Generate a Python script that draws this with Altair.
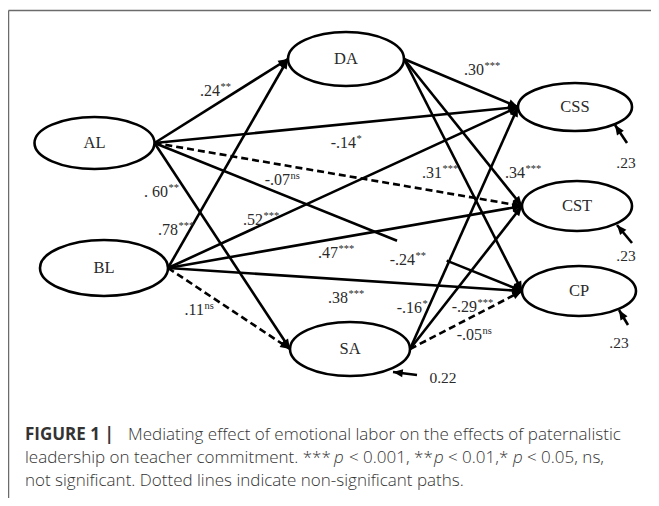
import math
import altair as alt
import pandas as pd

# ---------------- data ----------------
node_names = ["AL", "BL", "DA", "SA", "CSS", "CST", "CP"]

path_from = ["AL", "AL", "AL", "AL", "AL", "BL", "BL", "BL", "BL", "BL",
             "DA", "DA", "DA", "SA", "SA", "SA"]
path_to = ["DA", "CSS", "CST", "CP", "SA", "DA", "CSS", "CST", "CP", "SA",
           "CSS", "CST", "CP", "CSS", "CST", "CP"]
path_coef = [".24", "-.14", "-.07", "-.24", ". 60", ".78", ".52", ".47", ".38", ".11",
             ".30", ".34", ".31", "-.16", "-.29", "-.05"]
path_sig = ["**", "*", "ns", "**", "**", "***", "***", "***", "***", "ns",
            "***", "***", "***", "*", "***", "ns"]

res_node = ["CSS", "CST", "CP", "SA"]
res_value = [".23", ".23", ".23", "0.22"]

caption_title = "FIGURE 1 |"
caption_l1 = "Mediating effect of emotional labor on the effects of paternalistic"
caption_l2 = ["leadership on teacher commitment. ***", "p", "< 0.001, **", "p",
              "< 0.01,*", "p", "< 0.05, ns,"]
caption_l3 = "not significant. Dotted lines indicate non-significant paths."

# ---------------- layout (figure pixels) ----------------
node_cx = [94.5, 104, 346, 350, 575, 577, 579]
node_cy = [143, 268, 59, 349, 107, 206, 291]
node_rx = [60, 64, 58, 60, 57, 55, 57]
node_ry = [26, 28, 27, 27, 24, 25, 25]

label_x = [220, 356, 290, 415, 168, 178, 263, 338, 348, 204, 484, 525, 442, 422, 477, 482]
label_y = [96, 148, 185, 265, 197, 235, 225, 258, 303, 315, 75, 178, 178, 313, 312, 340]
gaps = {("AL", "CP"): (0.66, 0.795)}

res_x1 = [627, 632, 628, 417]
res_y1 = [143, 243, 325, 375]
res_x2 = [615, 617, 619, 393]
res_y2 = [125, 225, 310, 372]
res_lx = [626, 626, 619, 443]
res_ly = [163, 256, 343, 378]

cap_l2_x = [25, 334, 349, 434, 448, 513, 527]
cap_l2_style = ["normal", "italic", "normal", "italic", "normal", "italic", "normal"]

SERIF = "Liberation Serif, Times New Roman, Times, serif"
SANS = "Open Sans, Liberation Sans, sans-serif"

# ---------------- tables ----------------
nodes = pd.DataFrame({"name": node_names, "cx": node_cx, "cy": node_cy,
                      "rx": node_rx, "ry": node_ry})
nodes["size"] = (2 * nodes["rx"]) ** 2
nodes["shape"] = [f"M-1,0A1,{ry / rx:.4f},0,1,1,1,0A1,{ry / rx:.4f},0,1,1,-1,0Z"
                  for rx, ry in zip(node_rx, node_ry)]
npos = nodes.set_index("name")

seg_rows, head_rows = [], []
for f, t, c, s in zip(path_from, path_to, path_coef, path_sig):
    sx = npos.loc[f, "cx"] + npos.loc[f, "rx"]
    sy = npos.loc[f, "cy"]
    tx = npos.loc[t, "cx"] - npos.loc[t, "rx"]
    ty = npos.loc[t, "cy"]
    dash = s == "ns"
    pieces = [(0.0, 1.0)]
    if (f, t) in gaps:
        g0, g1 = gaps[(f, t)]
        pieces = [(0.0, g0), (g1, 1.0)]
    for a, b in pieces:
        seg_rows.append({"x": sx + a * (tx - sx), "y": sy + a * (ty - sy),
                         "x2": sx + b * (tx - sx), "y2": sy + b * (ty - sy),
                         "dash": dash})
    ang = math.degrees(math.atan2(ty - sy, tx - sx)) % 360
    head_rows.append({"x": tx, "y": ty, "ang": ang})

for x1, y1, x2, y2 in zip(res_x1, res_y1, res_x2, res_y2):
    seg_rows.append({"x": x1, "y": y1, "x2": x2, "y2": y2, "dash": False})
    head_rows.append({"x": x2, "y": y2,
                      "ang": math.degrees(math.atan2(y2 - y1, x2 - x1)) % 360})

segs = pd.DataFrame(seg_rows)
heads = pd.DataFrame(head_rows)
labels = pd.DataFrame({"coef": path_coef, "sig": path_sig, "x": label_x, "y": label_y})
labels["ys"] = labels["y"] - 6
res = pd.DataFrame({"v": res_value, "x": res_lx, "y": res_ly})

cap_bold = pd.DataFrame({"t": [caption_title], "x": [25], "y": [440]})
cap_norm = pd.DataFrame(
    [{"t": caption_l1, "x": 128, "y": 440}]
    + [{"t": t, "x": x, "y": 463} for t, x, st in zip(caption_l2, cap_l2_x, cap_l2_style)
       if st == "normal"]
    + [{"t": caption_l3, "x": 25, "y": 486}])
cap_ital = pd.DataFrame(
    [{"t": t, "x": x, "y": 463} for t, x, st in zip(caption_l2, cap_l2_x, cap_l2_style)
     if st == "italic"])

frame = pd.DataFrame({"x": [8.5, 8.5], "y": [10.5, 10.5], "x2": [651, 8.5], "y2": [10.5, 498]})

# ---------------- chart ----------------
xs = alt.Scale(domain=[8, 651], nice=False, zero=False)
ys = alt.Scale(domain=[8, 498], nice=False, zero=False, reverse=True)
X = alt.X("x:Q", scale=xs, axis=None)
Y = alt.Y("y:Q", scale=ys, axis=None)

frame_l = alt.Chart(frame).mark_rule(color="#6b6b6b", strokeWidth=1.5).encode(
    x=X, y=Y, x2="x2:Q", y2="y2:Q")

solid = alt.Chart(segs[~segs["dash"]]).mark_rule(color="black", strokeWidth=2.6).encode(
    x=X, y=Y, x2="x2:Q", y2="y2:Q")
dashed = alt.Chart(segs[segs["dash"]]).mark_rule(
    color="black", strokeWidth=2.6, strokeDash=[7, 4]).encode(
    x=X, y=Y, x2="x2:Q", y2="y2:Q")

arrow_l = alt.Chart(heads).mark_point(
    filled=True, color="black", opacity=1, size=380,
    shape="M0,0L-1,-0.42L-1,0.42Z", strokeWidth=0).encode(
    x=X, y=Y, angle=alt.Angle("ang:Q", scale=None))

ell = alt.Chart(nodes).mark_point(
    filled=False, fill="white", fillOpacity=1, stroke="black", strokeWidth=2.6, opacity=1).encode(
    x=alt.X("cx:Q", scale=xs, axis=None), y=alt.Y("cy:Q", scale=ys, axis=None),
    shape=alt.Shape("shape:N", scale=None, legend=None),
    size=alt.Size("size:Q", scale=None, legend=None))

TXT = "#2a2a2a"
node_txt = alt.Chart(nodes).mark_text(
    font=SERIF, fontSize=16.5, color=TXT, baseline="middle", align="center").encode(
    x=alt.X("cx:Q", scale=xs, axis=None), y=alt.Y("cy:Q", scale=ys, axis=None), text="name:N")

coef_txt = alt.Chart(labels).mark_text(
    font=SERIF, fontSize=16, color=TXT, baseline="alphabetic", align="right").encode(
    x=X, y=Y, text="coef:N")
sig_txt = alt.Chart(labels).mark_text(
    font=SERIF, fontSize=10.5, color=TXT, baseline="alphabetic", align="left", dx=0.5).encode(
    x=X, y=alt.Y("ys:Q", scale=ys, axis=None), text="sig:N")

res_txt = alt.Chart(res).mark_text(
    font=SERIF, fontSize=15.5, color=TXT, baseline="middle", align="center").encode(
    x=X, y=Y, text="v:N")

cap_style = dict(font=SANS, fontSize=17, color="#333",
                 baseline="alphabetic", align="left")
cap_b = alt.Chart(cap_bold).mark_text(fontWeight="bold", **cap_style).encode(x=X, y=Y, text="t:N")
cap_n = alt.Chart(cap_norm).mark_text(fontWeight=300, **cap_style).encode(x=X, y=Y, text="t:N")
cap_i = alt.Chart(cap_ital).mark_text(fontWeight=300, fontStyle="italic", **cap_style).encode(
    x=X, y=Y, text="t:N")

chart = alt.layer(frame_l, solid, dashed, arrow_l, ell, node_txt, coef_txt, sig_txt,
                  res_txt, cap_b, cap_n, cap_i).properties(
    width=643, height=490, autosize=alt.AutoSizeParams(type="none"), padding=0,
    background="white").configure_view(stroke=None)

chart.save("out.html", embed_options={"renderer": "svg", "actions": False})
